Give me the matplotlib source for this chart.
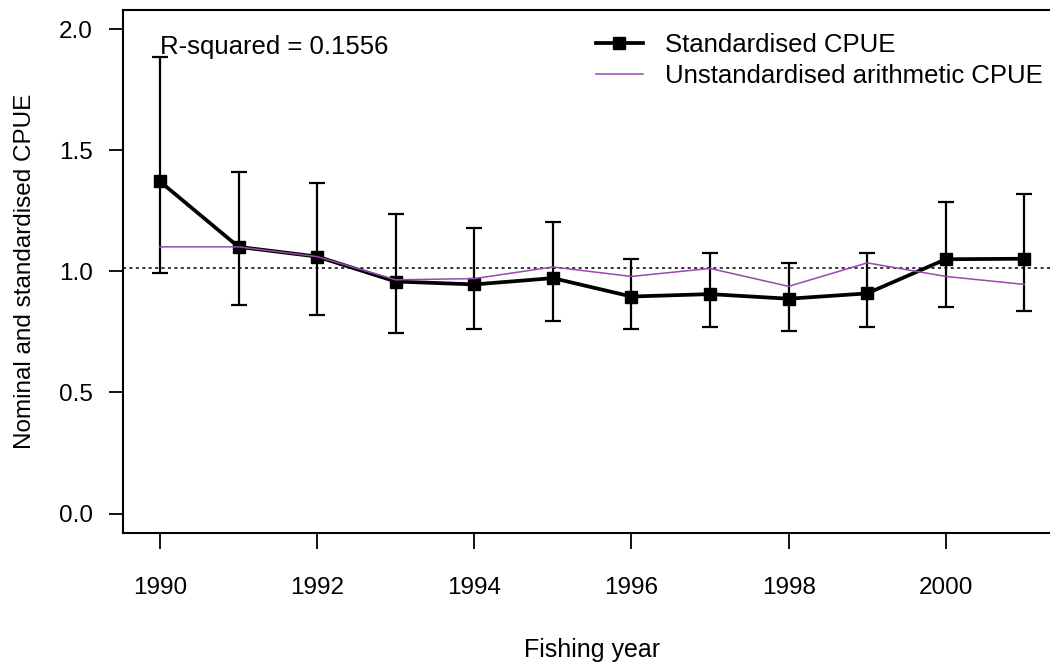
import numpy as np
import matplotlib
matplotlib.use("Agg")
import matplotlib.pyplot as plt

plt.rcParams['font.family'] = ['Liberation Sans', 'DejaVu Sans']

# CPUE indices by fishing year
years = [1990, 1991, 1992, 1993, 1994, 1995, 1996, 1997, 1998, 1999, 2000, 2001]
std_cpue = [1.371, 1.101, 1.061, 0.958, 0.946, 0.972, 0.896, 0.906, 0.887, 0.909, 1.050, 1.052]
std_upper = [1.884, 1.410, 1.366, 1.235, 1.177, 1.202, 1.053, 1.077, 1.035, 1.077, 1.285, 1.320]
std_lower = [0.994, 0.862, 0.820, 0.746, 0.764, 0.796, 0.764, 0.770, 0.754, 0.770, 0.853, 0.836]
arith_cpue = [1.101, 1.101, 1.061, 0.965, 0.970, 1.018, 0.979, 1.012, 0.938, 1.035, 0.979, 0.946]
ref_level = 1.013
r_squared = 0.1556

TICK_FS = 17.5
TEXT_FS = 18.5
purple = '#9a47b0'

fig = plt.figure(figsize=(10.5, 6.64), dpi=100)
ax = fig.add_axes([0.1174, 0.1973, 0.8931, 0.7881])

yrs = np.array(years)
mid = np.array(std_cpue)
err = np.vstack([mid - np.array(std_lower), np.array(std_upper) - mid])

ax.errorbar(yrs, mid, yerr=err, fmt='none', ecolor='black', elinewidth=1.6,
            capsize=6, capthick=1.6, zorder=2)
ax.plot(yrs, mid, color='black', lw=2.7, marker='s', markersize=8.2,
        label='Standardised CPUE', zorder=3)
ax.plot(yrs, arith_cpue, color=purple, lw=1.1,
        label='Unstandardised arithmetic CPUE', zorder=4)
ax.axhline(ref_level, color='black', lw=1.1, ls=(0, (2, 2.2)), zorder=1)

ax.text(1990.0, 1.928, f'R-squared = {r_squared:.4f}', fontsize=TEXT_FS,
        ha='left', va='center')

ax.legend(loc='upper left', bbox_to_anchor=(0.5038, 0.9555), frameon=False,
          fontsize=TEXT_FS, handlelength=1.83, handletextpad=0.87,
          labelspacing=0.27, borderpad=0, borderaxespad=0)

ax.set_xlim(1989.533, 2001.467)
ax.set_ylim(-0.08, 2.08)
ax.set_xticks(range(1990, 2001, 2))
ax.set_yticks([0.0, 0.5, 1.0, 1.5, 2.0])
ax.set_yticklabels(['0.0', '0.5', '1.0', '1.5', '2.0'])
ax.tick_params(axis='x', length=11.5, width=1.3, pad=20, labelsize=TICK_FS)
ax.tick_params(axis='y', length=10, width=1.3, pad=12, labelsize=TICK_FS)
for s in ax.spines.values():
    s.set_linewidth(1.5)

ax.set_xlabel('Fishing year', fontsize=18, va='top')
ax.xaxis.set_label_coords(0.5, -0.200)
ax.set_ylabel('Nominal and standardised CPUE', fontsize=17.5)
ax.yaxis.set_label_coords(-0.093, 0.5)

fig.savefig('out.png', dpi=100)
